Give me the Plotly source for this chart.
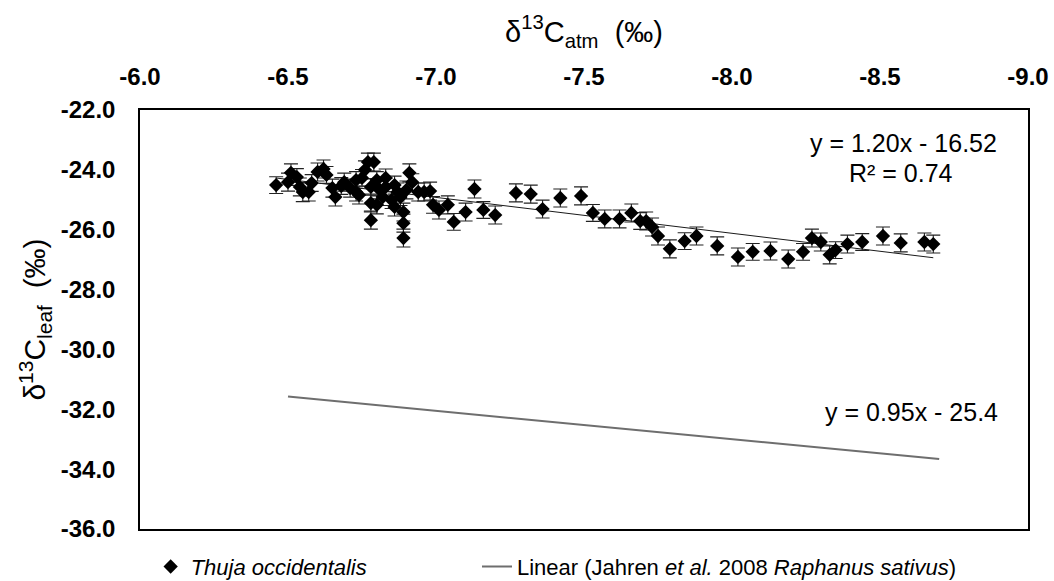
import plotly.graph_objects as go

# --- data ---
d13c_atm = [-6.46, -6.50, -6.51, -6.53, -6.54, -6.55, -6.57, -6.58, -6.60, -6.62,
            -6.63, -6.65, -6.66, -6.68, -6.69, -6.71, -6.73, -6.73, -6.74, -6.75,
            -6.76, -6.77, -6.78, -6.78, -6.78, -6.79, -6.80, -6.80, -6.81, -6.82,
            -6.83, -6.83, -6.85, -6.86, -6.86, -6.87, -6.88, -6.89, -6.89, -6.89,
            -6.90, -6.91, -6.92, -6.94, -6.96, -6.98, -6.99, -7.01, -7.04, -7.06,
            -7.10, -7.13, -7.16, -7.20, -7.27, -7.32, -7.36, -7.42, -7.49, -7.53,
            -7.57, -7.62, -7.66, -7.69, -7.71, -7.73, -7.75, -7.79, -7.84, -7.88,
            -7.95, -8.02, -8.07, -8.13, -8.19, -8.24, -8.27, -8.30, -8.33, -8.35,
            -8.39, -8.44, -8.51, -8.57, -8.65, -8.68]
d13c_leaf = [-24.51, -24.41, -24.10, -24.24, -24.57, -24.74, -24.74, -24.44, -24.07, -23.97,
             -24.17, -24.61, -24.91, -24.54, -24.41, -24.61, -24.34, -24.74, -24.84, -24.27,
             -24.00, -23.74, -24.57, -25.68, -25.11, -23.74, -24.34, -25.17, -24.67, -24.91,
             -24.27, -24.57, -25.01, -25.24, -24.51, -24.74, -24.91, -25.41, -25.78, -26.28,
             -24.67, -24.10, -24.41, -24.74, -24.74, -24.71, -25.17, -25.34, -25.17, -25.74,
             -25.41, -24.64, -25.34, -25.51, -24.77, -24.81, -25.31, -24.94, -24.87, -25.44,
             -25.64, -25.64, -25.44, -25.71, -25.71, -25.91, -26.21, -26.64, -26.38, -26.21,
             -26.54, -26.91, -26.74, -26.71, -26.98, -26.74, -26.28, -26.41, -26.84, -26.68,
             -26.48, -26.41, -26.21, -26.44, -26.41, -26.48]
leaf_err = [0.28, 0.30, 0.30, 0.28, 0.30, 0.32, 0.30, 0.28, 0.30, 0.30,
            0.28, 0.30, 0.30, 0.28, 0.30, 0.30, 0.28, 0.30, 0.30, 0.28,
            0.30, 0.30, 0.28, 0.30, 0.30, 0.30, 0.28, 0.30, 0.30, 0.28,
            0.30, 0.30, 0.28, 0.30, 0.30, 0.30, 0.28, 0.30, 0.30, 0.30,
            0.30, 0.30, 0.28, 0.30, 0.30, 0.30, 0.28, 0.30, 0.30, 0.28,
            0.30, 0.30, 0.28, 0.30, 0.30, 0.30, 0.30, 0.30, 0.30, 0.28,
            0.30, 0.30, 0.30, 0.28, 0.30, 0.30, 0.30, 0.30, 0.28, 0.30,
            0.30, 0.30, 0.28, 0.30, 0.30, 0.28, 0.30, 0.30, 0.30, 0.28,
            0.30, 0.28, 0.30, 0.30, 0.30, 0.30]

thuja_fit_slope, thuja_fit_intercept = 1.20, -16.52
thuja_fit_x = [-6.46, -8.68]
jahren_slope, jahren_intercept = 0.95, -25.4
jahren_x = [-6.5, -8.7]

x_ticks = [-6.0, -6.5, -7.0, -7.5, -8.0, -8.5, -9.0]
y_ticks = [-22.0, -24.0, -26.0, -28.0, -30.0, -32.0, -34.0, -36.0]

FONT = "Liberation Sans, Arial, sans-serif"

fig = go.Figure()

fig.add_trace(go.Scatter(
    x=thuja_fit_x,
    y=[thuja_fit_slope * v + thuja_fit_intercept for v in thuja_fit_x],
    mode="lines", line=dict(color="#1a1a1a", width=1),
    showlegend=False, hoverinfo="skip"))

fig.add_trace(go.Scatter(
    x=d13c_atm, y=d13c_leaf, mode="markers",
    name="<i>Thuja occidentalis</i>", legend="legend",
    marker=dict(symbol="diamond", size=11, color="black", line=dict(width=0)),
    error_y=dict(type="data", array=leaf_err, visible=True,
                 color="#222222", thickness=1.1, width=7)))

fig.add_trace(go.Scatter(
    x=jahren_x,
    y=[jahren_slope * v + jahren_intercept for v in jahren_x],
    mode="lines", line=dict(color="#6e6e6e", width=2),
    name="Linear (Jahren <i>et al.</i> 2008 <i>Raphanus sativus</i>)",
    legend="legend2"))

legend_common = dict(orientation="h", yanchor="middle", y=-0.090, xanchor="left",
                     font=dict(size=22, family=FONT), bgcolor="rgba(0,0,0,0)")

fig.update_layout(
    width=1054, height=581,
    margin=dict(l=140, r=26, t=110, b=52, autoexpand=False),
    paper_bgcolor="white", plot_bgcolor="white",
    font=dict(family=FONT, color="black"),
    showlegend=True,
    legend=dict(x=0.012, **legend_common),
    legend2=dict(x=0.3795, **legend_common),
    xaxis=dict(side="top", range=[-6.0, -9.0], tickvals=x_ticks,
               ticktext=[f"{v:.1f}" for v in x_ticks],
               tickfont=dict(size=24, family=FONT, weight="bold"),
               ticks="", ticklabelstandoff=14,
               showgrid=False, zeroline=False,
               showline=True, linecolor="black", linewidth=1.5, mirror=True,
               title=dict(text="δ<sup>13</sup>C<sub>atm</sub>  (‰)",
                          font=dict(size=29, family=FONT), standoff=12)),
    yaxis=dict(range=[-36.0, -22.0], tickvals=y_ticks,
               ticktext=[f"{v:.1f}" for v in y_ticks],
               tickfont=dict(size=24, family=FONT, weight="bold"),
               ticks="", ticklabelstandoff=18,
               showgrid=False, zeroline=False,
               showline=True, linecolor="black", linewidth=1.5, mirror=True,
               title=dict(text="δ<sup>13</sup>C<sub>leaf</sub>  (‰)",
                          font=dict(size=30, family=FONT), standoff=6)),
    annotations=[
        dict(text="y = 1.20x - 16.52", xref="paper", yref="paper", x=0.860, y=0.921,
             showarrow=False, font=dict(size=25, family=FONT), xanchor="center", yanchor="middle"),
        dict(text="R² = 0.74", xref="paper", yref="paper", x=0.857, y=0.850,
             showarrow=False, font=dict(size=25, family=FONT), xanchor="center", yanchor="middle"),
        dict(text="y = 0.95x - 25.4", xref="paper", yref="paper", x=0.869, y=0.279,
             showarrow=False, font=dict(size=25, family=FONT), xanchor="center", yanchor="middle"),
    ],
)

fig.write_html("out.html")
